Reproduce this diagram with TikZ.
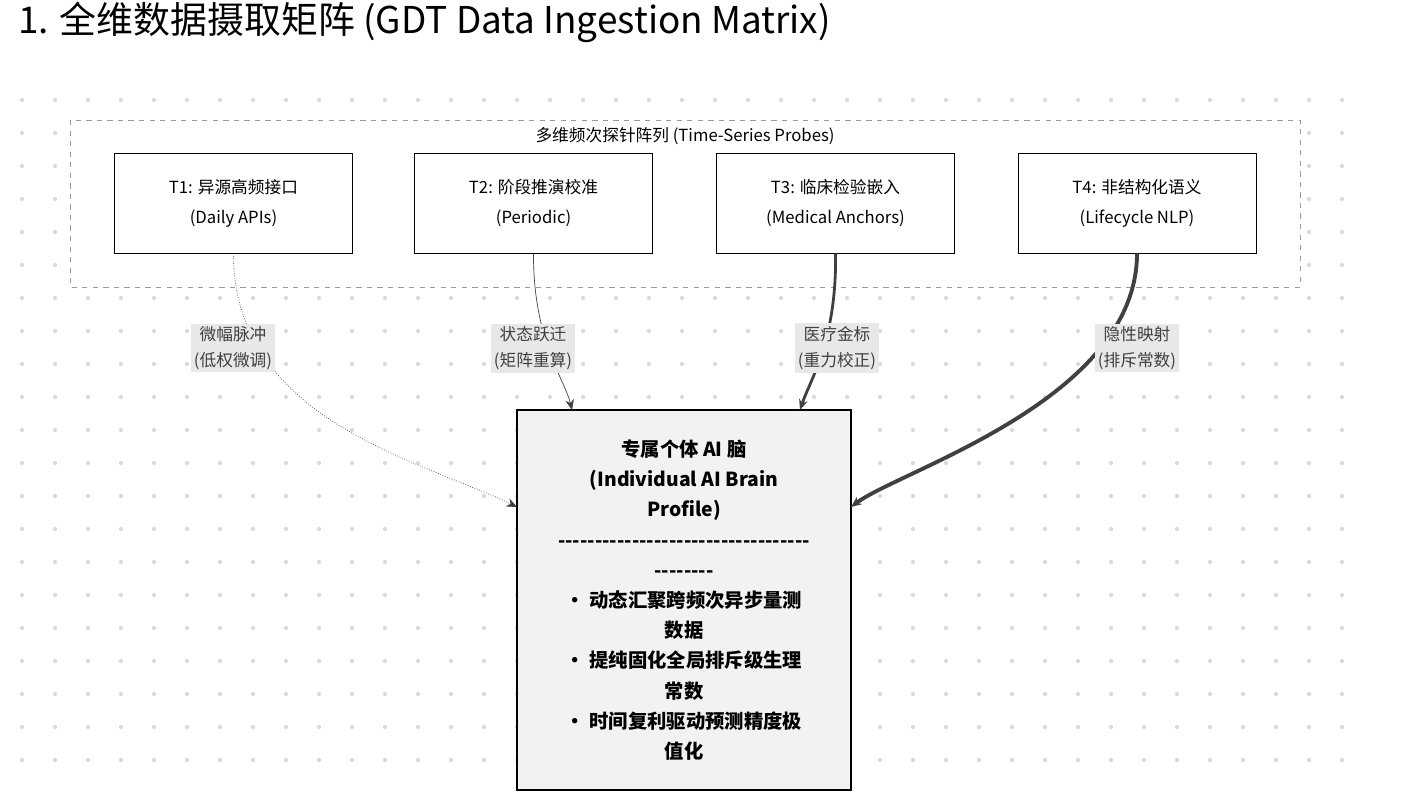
\documentclass[tikz,border=0pt]{standalone}
\usepackage{fontspec}
\setmainfont{Noto Sans CJK SC}[Ligatures=TeXOff]
\usetikzlibrary{arrows.meta,calc}
\definecolor{gridgrey}{gray}{0.85}
\definecolor{lblgrey}{gray}{0.91}
\definecolor{coregrey}{gray}{0.95}
\tikzset{
  probe/.style={draw, fill=white, minimum width=4.76cm, minimum height=2cm, align=center, font=\fontsize{9.5}{17}\selectfont},
  lbl/.style={fill=lblgrey, inner sep=1.5pt, align=center, text=black!75, font=\fontsize{9.5}{15}\selectfont},
  feed/.style={draw=black!75, -{Stealth[length=6pt,width=5pt]}},
}
\begin{document}
\begin{tikzpicture}[x=0.02cm,y=-0.02cm]
\useasboundingbox (0,0) rectangle (1424,809);
\foreach \i in {0,...,40} {
  \foreach \j in {0,...,20} {
    \fill[gridgrey] (22+33*\i,100+33*\j) circle (1.2pt);
  }
}
\node[anchor=west, font=\fontsize{21}{24}\selectfont] (title) at (12,22) {1. 全维数据摄取矩阵 (GDT Data Ingestion Matrix)};
\draw[black!40, dashed, fill=white] (70,120) rectangle (1300,287);
\node[font=\fontsize{9.5}{12}\selectfont] (grp) at (685,136) {多维频次探针阵列 (Time-Series Probes)};
\node[probe] (t1) at (233.5,203) {T1: 异源高频接口\\(Daily APIs)};
\node[probe] (t2) at (533.5,203) {T2: 阶段推演校准\\(Periodic)};
\node[probe] (t3) at (835.5,203) {T3: 临床检验嵌入\\(Medical Anchors)};
\node[probe] (t4) at (1137,203) {T4: 非结构化语义\\(Lifecycle NLP)};
\node[draw, very thick, fill=coregrey, minimum width=6.68cm, minimum height=7.6cm, align=center, font=\bfseries\fontsize{11}{17.2}\selectfont] (core) at (684,600) {专属个体 AI 脑\\(Individual AI Brain\\Profile)\\----------------------------------\\--------\\• 动态汇聚跨频次异步量测\\数据\\• 提纯固化全局排斥级生理\\常数\\• 时间复利驱动预测精度极\\值化};
\coordinate (inL) at (517,507);
\coordinate (inR) at (851,507);
\coordinate (inT2) at (572,410);
\coordinate (inT3) at (800,410);
% feeds into the core
\draw[feed, densely dotted] (t1.south) .. controls (233,420) and (420,460) .. (inL);
\draw[feed, thin] (t2.south) .. controls (533,340) and (565,380) .. (inT2);
\draw[feed, line width=1.6pt] (t3.south) .. controls (837,340) and (810,380) .. (inT3);
\draw[feed, line width=2.2pt] (t4.south) .. controls (1137,400) and (900,470) .. (inR);
\node[lbl] (l1) at (233,348) {微幅脉冲\\(低权微调)};
\node[lbl] (l2) at (533,348) {状态跃迁\\(矩阵重算)};
\node[lbl] (l3) at (837,348) {医疗金标\\(重力校正)};
\node[lbl] (l4) at (1137,348) {隐性映射\\(排斥常数)};
\end{tikzpicture}
\end{document}
